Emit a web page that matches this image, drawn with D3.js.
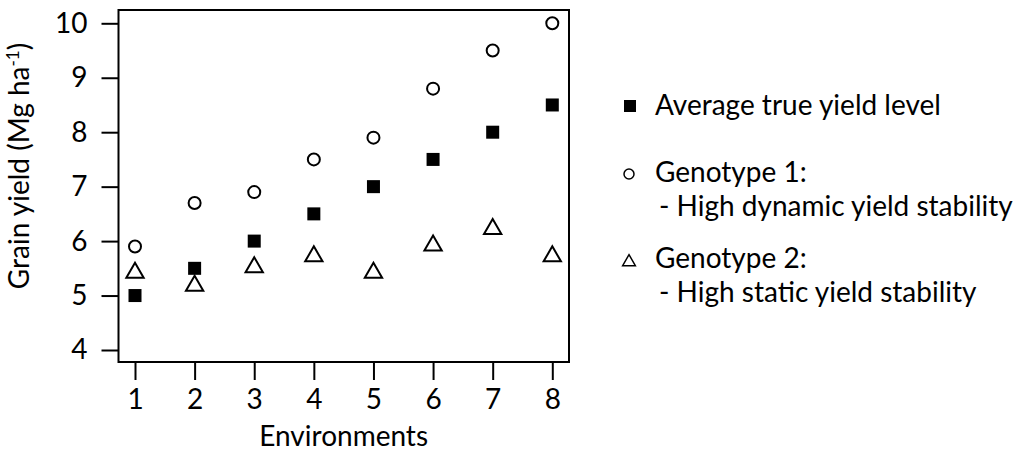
<!DOCTYPE html>
<html lang="en">
<head>
  <meta charset="UTF-8">
  <title>Grain yield</title>
  <style>
    body { margin: 0; background: #fff; }
    text { font-family: Lato, "Open Sans", sans-serif; fill: #000; }
  </style>
</head>
<body>
  <script src="https://cdn.jsdelivr.net/npm/d3@7"></script>
  <script>
    const environments = [1, 2, 3, 4, 5, 6, 7, 8];
    const averageYield = [5, 5.5, 6, 6.5, 7, 7.5, 8, 8.5];
    const genotype1 = [5.9, 6.7, 6.9, 7.5, 7.9, 8.8, 9.5, 10];
    const genotype2 = [5.42, 5.18, 5.52, 5.72, 5.42, 5.92, 6.22, 5.72];
    const yTicks = [4, 5, 6, 7, 8, 9, 10];

    const width = 1017, height = 452;
    const svg = d3.select('body').append('svg')
      .attr('width', width)
      .attr('height', height);

    const x = d3.scaleLinear().domain([1, 8]).range([135, 552.3]);
    const y = d3.scaleLinear().domain([4, 10]).range([350, 23.3]);

    // plot box
    svg.append('rect')
      .attr('x', 118.5).attr('y', 10)
      .attr('width', 569 - 118.5).attr('height', 362 - 10)
      .attr('fill', 'none')
      .attr('stroke', '#000')
      .attr('stroke-width', 2);

    const fontSize = 28;

    // y axis
    const yAxis = svg.append('g')
      .attr('transform', 'translate(118.5,0)')
      .call(d3.axisLeft(y).tickValues(yTicks).tickSize(17).tickPadding(14).tickFormat(d3.format('d')));
    yAxis.select('.domain').remove();
    yAxis.selectAll('line').attr('stroke', '#000').attr('stroke-width', 2);
    yAxis.selectAll('text').style('font-size', fontSize + 'px').attr('font-family', null);

    // x axis
    const xAxis = svg.append('g')
      .attr('transform', 'translate(0,362)')
      .call(d3.axisBottom(x).tickValues(environments).tickSize(18).tickPadding(9).tickFormat(d3.format('d')));
    xAxis.select('.domain').remove();
    xAxis.selectAll('line').attr('stroke', '#000').attr('stroke-width', 2);
    xAxis.selectAll('text').style('font-size', fontSize + 'px').attr('font-family', null);

    // axis titles
    svg.append('text')
      .attr('x', x(4.5)).attr('y', 446)
      .attr('text-anchor', 'middle')
      .style('font-size', fontSize + 'px')
      .text('Environments');

    const yTitle = svg.append('text')
      .attr('transform', 'translate(29,166) rotate(-90)')
      .attr('text-anchor', 'middle')
      .style('font-size', fontSize + 'px');
    yTitle.append('tspan').text('Grain yield (Mg ha');
    yTitle.append('tspan').attr('dy', -10).style('font-size', '17px').text('-1');
    yTitle.append('tspan').attr('dy', 10).text(')');

    // markers
    const sq = 13;
    svg.append('g').selectAll('rect')
      .data(averageYield)
      .join('rect')
      .attr('x', (d, i) => x(environments[i]) - sq / 2)
      .attr('y', d => y(d) - sq / 2)
      .attr('width', sq).attr('height', sq)
      .attr('fill', '#000');

    svg.append('g').selectAll('circle')
      .data(genotype1)
      .join('circle')
      .attr('cx', (d, i) => x(environments[i]))
      .attr('cy', d => y(d))
      .attr('r', 6)
      .attr('fill', 'none')
      .attr('stroke', '#000')
      .attr('stroke-width', 2);

    const tri = d3.symbol().type(d3.symbolTriangle).size(130);
    svg.append('g').selectAll('path')
      .data(genotype2)
      .join('path')
      .attr('transform', (d, i) => 'translate(' + x(environments[i]) + ',' + y(d) + ')')
      .attr('d', tri)
      .attr('fill', 'none')
      .attr('stroke', '#000')
      .attr('stroke-width', 2);

    // legend
    const legend = svg.append('g');
    legend.append('rect')
      .attr('x', 630 - 6).attr('y', 106 - 6)
      .attr('width', 12).attr('height', 12)
      .attr('fill', '#000');
    legend.append('text').attr('x', 655).attr('y', 115)
      .style('font-size', fontSize + 'px').text('Average true yield level');

    legend.append('circle')
      .attr('cx', 629).attr('cy', 174).attr('r', 5)
      .attr('fill', 'none').attr('stroke', '#000').attr('stroke-width', 1.5);
    const g1 = legend.append('text').attr('y', 182).style('font-size', fontSize + 'px');
    g1.append('tspan').attr('x', 655).text('Genotype 1:');
    g1.append('tspan').attr('x', 659).attr('dy', 34).text('- High dynamic yield stability');

    legend.append('path')
      .attr('transform', 'translate(629,262)')
      .attr('d', d3.symbol().type(d3.symbolTriangle).size(70))
      .attr('fill', 'none').attr('stroke', '#000').attr('stroke-width', 1.5);
    const g2 = legend.append('text').attr('y', 268).style('font-size', fontSize + 'px');
    g2.append('tspan').attr('x', 655).text('Genotype 2:');
    g2.append('tspan').attr('x', 659).attr('dy', 34).text('- High static yield stability');
  </script>
</body>
</html>
